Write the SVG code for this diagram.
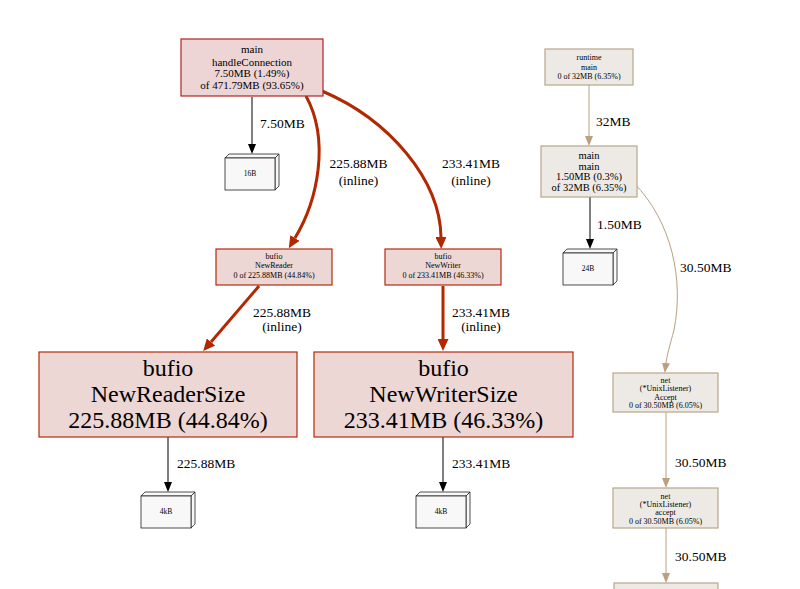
<svg xmlns="http://www.w3.org/2000/svg" width="800" height="589" viewBox="0 0 800 589">
<style>
text{font-family:"Liberation Serif","Times New Roman",serif;fill:#000}
.c{text-anchor:middle}
.red{fill:#edd7d5;stroke:#b22b10;stroke-width:1.2}
.hot{fill:#edd5d5;stroke:#b22222;stroke-width:1.2}
.gray{fill:#edeae6;stroke:#b8a58a;stroke-width:1.2}
.box3{fill:#f8f8f8;stroke:#222;stroke-width:0.8}
.e{fill:none}
.eb{stroke:#000;stroke-width:1}
.er{stroke:#b22800;stroke-width:3}
.et{stroke:#b8a080;stroke-width:1}
.lbl{font-size:13.5px}
.s7{font-size:7.5px}
.s8{font-size:8px}
.s10{font-size:10.5px}
.s11{font-size:11px}
.s24{font-size:24px}
</style>
<defs>
<marker id="ab" markerUnits="userSpaceOnUse" markerWidth="10" markerHeight="8" refX="0" refY="4" orient="auto"><path d="M0,0 L10,4 L0,8 z" fill="#000"/></marker>
<marker id="ar" markerUnits="userSpaceOnUse" markerWidth="12" markerHeight="11" refX="0" refY="5.5" orient="auto"><path d="M0,0 L12,5.5 L0,11 z" fill="#b22800"/></marker>
<marker id="at" markerUnits="userSpaceOnUse" markerWidth="10" markerHeight="8" refX="0" refY="4" orient="auto"><path d="M0,0 L10,4 L0,8 z" fill="#b8a080"/></marker>
</defs>

<g id="connectors">
<path class="e eb" d="M252,97 L252,144" marker-end="url(#ab)"/>
<text class="lbl" x="260" y="128">7.50MB</text>
<path class="e er" d="M306,96 C330,140 318,200 295,238" marker-end="url(#ar)"/>
<text class="lbl c" x="358.5" y="168">225.88MB</text>
<text class="lbl c" x="358.5" y="185">(inline)</text>
<path class="e er" d="M322,91 C390,120 440,180 441,237" marker-end="url(#ar)"/>
<text class="lbl c" x="471" y="168">233.41MB</text>
<text class="lbl c" x="471" y="185">(inline)</text>
<path class="e er" d="M259,286 L211,342" marker-end="url(#ar)"/>
<text class="lbl c" x="282" y="317">225.88MB</text>
<text class="lbl c" x="282" y="331">(inline)</text>
<path class="e er" d="M443,286 L443,339" marker-end="url(#ar)"/>
<text class="lbl c" x="481" y="317">233.41MB</text>
<text class="lbl c" x="481" y="331">(inline)</text>
<path class="e eb" d="M168,437 L168,482" marker-end="url(#ab)"/>
<text class="lbl" x="177" y="468">225.88MB</text>
<path class="e eb" d="M443,437 L443,482" marker-end="url(#ab)"/>
<text class="lbl" x="452" y="468">233.41MB</text>
<path class="e et" d="M589,85 L589,136" marker-end="url(#at)"/>
<text class="lbl" x="596" y="126">32MB</text>
<path class="e eb" d="M590,197 L590,239" marker-end="url(#ab)"/>
<text class="lbl" x="597" y="229">1.50MB</text>
<path class="e et" d="M634,183 C672,222 684,280 674,330 C670,345 667,355 666,363" marker-end="url(#at)"/>
<text class="lbl" x="680" y="272">30.50MB</text>
<path class="e et" d="M666,412 L666,478" marker-end="url(#at)"/>
<text class="lbl" x="675" y="467">30.50MB</text>
<path class="e et" d="M666,528 L666,573" marker-end="url(#at)"/>
<text class="lbl" x="675" y="561">30.50MB</text>
</g>

<g id="n_handleConnection">
<rect class="hot" x="181" y="39" width="142" height="57"/>
<text class="s11 c" x="252" y="53">main</text>
<text class="s11 c" x="252" y="65.5">handleConnection</text>
<text class="s11 c" x="252" y="77">7.50MB (1.49%)</text>
<text class="s11 c" x="252" y="88.5">of 471.79MB (93.65%)</text>
</g>

<g id="n_16B">
<polygon class="box3" points="225,158 229,154 279,154 275,158"/>
<polygon class="box3" points="275,158 279,154 279,186 275,190"/>
<rect class="box3" x="225" y="158" width="50" height="32"/>
<text class="s7 c" x="250" y="175.5">16B</text>
</g>

<g id="n_NewReader">
<rect class="red" x="216" y="249" width="116" height="36"/>
<text class="s8 c" x="274" y="258.5">bufio</text>
<text class="s8 c" x="274" y="268">NewReader</text>
<text class="s8 c" x="274" y="277.5">0 of 225.88MB (44.84%)</text>
</g>

<g id="n_NewWriter">
<rect class="red" x="385" y="249" width="116" height="36"/>
<text class="s8 c" x="443" y="258.5">bufio</text>
<text class="s8 c" x="443" y="268">NewWriter</text>
<text class="s8 c" x="443" y="277.5">0 of 233.41MB (46.33%)</text>
</g>

<g id="n_NewReaderSize">
<rect class="red" x="39" y="352" width="258" height="85"/>
<text class="s24 c" x="168" y="376">bufio</text>
<text class="s24 c" x="168" y="402">NewReaderSize</text>
<text class="s24 c" x="168" y="428">225.88MB (44.84%)</text>
</g>

<g id="n_NewWriterSize">
<rect class="red" x="314" y="352" width="259" height="85"/>
<text class="s24 c" x="443.5" y="376">bufio</text>
<text class="s24 c" x="443.5" y="402">NewWriterSize</text>
<text class="s24 c" x="443.5" y="428">233.41MB (46.33%)</text>
</g>

<g id="n_4kB_reader">
<polygon class="box3" points="141,496 145,492 195,492 191,496"/>
<polygon class="box3" points="191,496 195,492 195,524 191,528"/>
<rect class="box3" x="141" y="496" width="50" height="32"/>
<text class="s7 c" x="166" y="513.5">4kB</text>
</g>

<g id="n_4kB_writer">
<polygon class="box3" points="416,496 420,492 470,492 466,496"/>
<polygon class="box3" points="466,496 470,492 470,524 466,528"/>
<rect class="box3" x="416" y="496" width="50" height="32"/>
<text class="s7 c" x="441" y="513.5">4kB</text>
</g>

<g id="n_runtime_main">
<rect class="gray" x="545" y="49" width="88" height="36"/>
<text class="s8 c" x="589" y="60">runtime</text>
<text class="s8 c" x="589" y="69.5">main</text>
<text class="s8 c" x="589" y="79">0 of 32MB (6.35%)</text>
</g>

<g id="n_main_main">
<rect class="gray" x="541" y="146" width="96" height="51"/>
<text class="s10 c" x="589" y="159">main</text>
<text class="s10 c" x="589" y="169.5">main</text>
<text class="s10 c" x="589" y="180">1.50MB (0.3%)</text>
<text class="s10 c" x="589" y="190.5">of 32MB (6.35%)</text>
</g>

<g id="n_24B">
<polygon class="box3" points="563,253 567,249 617,249 613,253"/>
<polygon class="box3" points="613,253 617,249 617,281 613,285"/>
<rect class="box3" x="563" y="253" width="50" height="32"/>
<text class="s7 c" x="588" y="270.5">24B</text>
</g>

<g id="n_Accept">
<rect class="gray" x="613" y="373" width="105" height="39"/>
<text class="s8 c" x="665.5" y="383">net</text>
<text class="s8 c" x="665.5" y="391.3">(*UnixListener)</text>
<text class="s8 c" x="665.5" y="399.6">Accept</text>
<text class="s8 c" x="665.5" y="408">0 of 30.50MB (6.05%)</text>
</g>

<g id="n_accept">
<rect class="gray" x="613" y="488" width="105" height="40"/>
<text class="s8 c" x="665.5" y="498.5">net</text>
<text class="s8 c" x="665.5" y="506.8">(*UnixListener)</text>
<text class="s8 c" x="665.5" y="515.1">accept</text>
<text class="s8 c" x="665.5" y="523.5">0 of 30.50MB (6.05%)</text>
</g>

<g id="n_next">
<rect class="gray" x="614" y="583" width="104" height="20"/>
</g>
</svg>
